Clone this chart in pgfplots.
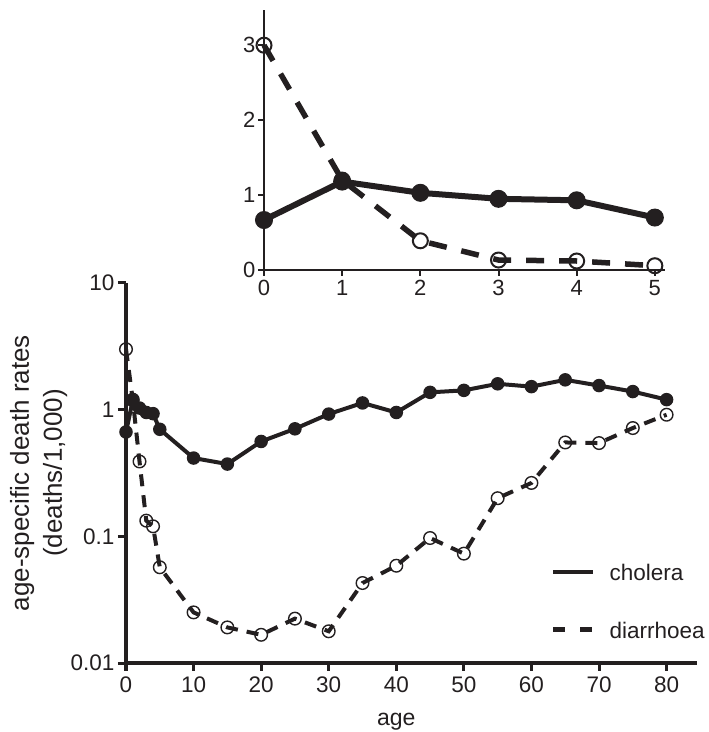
\documentclass[border=0pt]{standalone}
\usepackage{pgfplots}
\pgfplotsset{compat=1.18}
\usepackage{fontspec}
\setmainfont{Liberation Sans}
\definecolor{ink}{HTML}{231F20}
\begin{document}
\begin{tikzpicture}[font=\fontsize{22bp}{26bp}\selectfont]
\useasboundingbox (0,0) rectangle (709bp,732bp);
% ---------------- main axis ----------------
\begin{axis}[
  at={(126bp,69bp)}, anchor=south west,
  scale only axis, width=571bp, height=380bp,
  xmin=0, xmax=84.5, ymin=0.01, ymax=10, ymode=log,
  axis x line*=bottom, axis y line*=left,
  axis line style={-, line width=3.5bp, ink},
  xtick={0,10,20,30,40,50,60,70,80},
  ytick={0.01,0.1,1,10}, yticklabels={0.01,0.1,1,10},
  yminorticks=false,
  tick align=outside, major tick length=8bp,
  every tick/.style={line width=3bp, ink},
  /pgf/number format/assume math mode=true,
  tick label style={font=\fontsize{22.5bp}{26bp}\selectfont, text=ink},
  x tick label style={yshift=-2bp},
  clip=false,
  xlabel={age},
  xlabel style={at={(axis description cs:0.4734,-0.1632)}, anchor=base, inner sep=0pt, text=ink, font=\fontsize{23bp}{27bp}\selectfont},
  ylabel={age-specific death rates\\(deaths/1,000)},
  ylabel style={align=center, font=\fontsize{26bp}{33bp}\selectfont, at={(axis description cs:-0.1025,0.5)}, anchor=south, inner sep=0pt, text=ink},
  legend style={draw=none, fill=none, at={(axis description cs:0.7443,0.161)}, anchor=west,
    row sep=40bp, column sep=14bp, inner sep=0pt, nodes={inner sep=0pt, text=ink},
    font=\fontsize{22.5bp}{27bp}\selectfont},
  legend cell align=left,
  legend image code/.code={\draw[#1] (0bp,1bp) -- (40bp,1bp);},
]
\addplot[ink, line width=4bp, mark=*, mark size=6bp, mark options={solid, fill=ink, line width=1.5bp}, forget plot]
coordinates {(0,0.667)(1,1.18)(2,1.03)(3,0.95)(4,0.93)(5,0.70)(10,0.415)(15,0.372)(20,0.561)(25,0.706)(30,0.923)(35,1.13)(40,0.95)(45,1.37)(50,1.42)(55,1.60)(60,1.52)(65,1.72)(70,1.55)(75,1.39)(80,1.20)};
\addplot[ink, line width=4bp, dash pattern=on 12bp off 9bp, mark=o, mark size=6.3bp, mark options={solid, line width=1.4bp, fill=none}, forget plot]
coordinates {(0,3.0)(1,1.2)(2,0.39)(3,0.133)(4,0.12)(5,0.057)(10,0.0251)(15,0.0191)(20,0.0167)(25,0.0224)(30,0.0178)(35,0.0428)(40,0.0586)(45,0.097)(50,0.073)(55,0.200)(60,0.264)(65,0.551)(70,0.545)(75,0.716)(80,0.912)};
\addlegendimage{ink, line width=4.5bp}
\addlegendentry{cholera}
\addlegendimage{ink, line width=4.5bp, dash pattern=on 12bp off 15bp}
\addlegendentry{diarrhoea}
\end{axis}
% ---------------- inset axis ----------------
\begin{axis}[
  at={(264bp,462bp)}, anchor=south west,
  scale only axis, width=401bp, height=260bp,
  xmin=0, xmax=5.13, ymin=0, ymax=3.47,
  axis x line*=bottom, axis y line*=left,
  axis line style={-, line width=2bp, ink},
  xtick={0,1,2,3,4,5}, ytick={0,1,2,3},
  tick align=outside, major tick length=6bp,
  every tick/.style={line width=2bp, ink},
  /pgf/number format/assume math mode=true,
  tick label style={font=\fontsize{22bp}{26bp}\selectfont, text=ink},
  y tick label style={xshift=1bp},
  x tick label style={yshift=-1bp},
  clip=false,
]
\addplot[ink, line width=6bp, mark=*, mark size=8.5bp, mark options={solid, fill=ink, line width=1bp}]
coordinates {(0,0.667)(1,1.18)(2,1.03)(3,0.95)(4,0.93)(5,0.70)};
\addplot[ink, line width=5.5bp, dash pattern=on 18bp off 15bp, mark=o, mark size=7.5bp, mark options={solid, line width=2bp, fill=none}]
coordinates {(0,3.0)(1,1.2)(2,0.39)(3,0.133)(4,0.12)(5,0.057)};
\end{axis}
\end{tikzpicture}
\end{document}
